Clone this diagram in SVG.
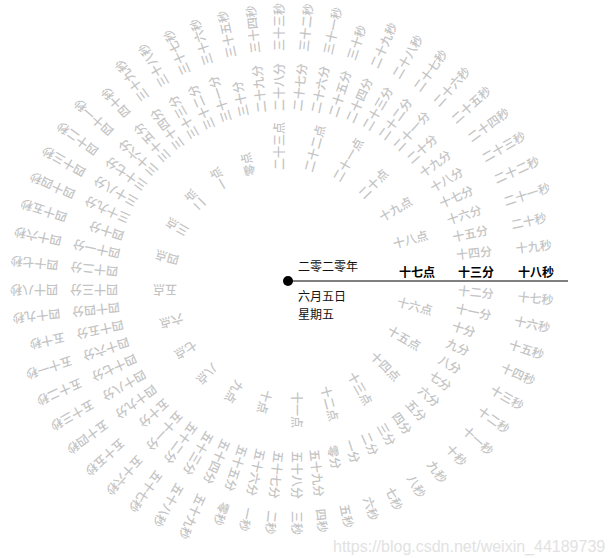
<svg xmlns="http://www.w3.org/2000/svg" width="611" height="558" viewBox="0 0 611 558">
<style>
text{font-family:"Noto Sans CJK SC","Noto Sans CJK TC",sans-serif;font-size:12px}
.g{fill:#c4c4c4;font-weight:500}
.cur{fill:#000;font-weight:bold}
.d{fill:#111}
.wm{font-family:"Liberation Sans",Arial,sans-serif;font-size:16px;fill:#e2e2e2}
</style>
<rect width="611" height="558" fill="#fff"/>
<g id="connectors">
<line x1="288" y1="281" x2="568" y2="281" stroke="#808080" stroke-width="2"/>
<circle cx="288" cy="281" r="5" fill="#000"/>
</g>
<g id="hours" transform="translate(288,281)">
<text class="cur" x="111" y="-4">十七点</text>
<text class="g" x="111" y="-4" transform="rotate(-15)">十八点</text>
<text class="g" x="111" y="-4" transform="rotate(-30)">十九点</text>
<text class="g" x="111" y="-4" transform="rotate(-45)">二十点</text>
<text class="g" x="111" y="-4" transform="rotate(-60)">二十一点</text>
<text class="g" x="111" y="-4" transform="rotate(-75)">二十二点</text>
<text class="g" x="111" y="-4" transform="rotate(-90)">二十三点</text>
<text class="g" x="111" y="-4" transform="rotate(-105)">零点</text>
<text class="g" x="111" y="-4" transform="rotate(-120)">一点</text>
<text class="g" x="111" y="-4" transform="rotate(-135)">二点</text>
<text class="g" x="111" y="-4" transform="rotate(-150)">三点</text>
<text class="g" x="111" y="-4" transform="rotate(-165)">四点</text>
<text class="g" x="111" y="-4" transform="rotate(180)">五点</text>
<text class="g" x="111" y="-4" transform="rotate(165)">六点</text>
<text class="g" x="111" y="-4" transform="rotate(150)">七点</text>
<text class="g" x="111" y="-4" transform="rotate(135)">八点</text>
<text class="g" x="111" y="-4" transform="rotate(120)">九点</text>
<text class="g" x="111" y="-4" transform="rotate(105)">十点</text>
<text class="g" x="111" y="-4" transform="rotate(90)">十一点</text>
<text class="g" x="111" y="-4" transform="rotate(75)">十二点</text>
<text class="g" x="111" y="-4" transform="rotate(60)">十三点</text>
<text class="g" x="111" y="-4" transform="rotate(45)">十四点</text>
<text class="g" x="111" y="-4" transform="rotate(30)">十五点</text>
<text class="g" x="111" y="-4" transform="rotate(15)">十六点</text>
</g>
<g id="minutes" transform="translate(288,281)">
<text class="cur" x="170" y="-4">十三分</text>
<text class="g" x="170" y="-4" transform="rotate(-6)">十四分</text>
<text class="g" x="170" y="-4" transform="rotate(-12)">十五分</text>
<text class="g" x="170" y="-4" transform="rotate(-18)">十六分</text>
<text class="g" x="170" y="-4" transform="rotate(-24)">十七分</text>
<text class="g" x="170" y="-4" transform="rotate(-30)">十八分</text>
<text class="g" x="170" y="-4" transform="rotate(-36)">十九分</text>
<text class="g" x="170" y="-4" transform="rotate(-42)">二十分</text>
<text class="g" x="170" y="-4" transform="rotate(-48)">二十一分</text>
<text class="g" x="170" y="-4" transform="rotate(-54)">二十二分</text>
<text class="g" x="170" y="-4" transform="rotate(-60)">二十三分</text>
<text class="g" x="170" y="-4" transform="rotate(-66)">二十四分</text>
<text class="g" x="170" y="-4" transform="rotate(-72)">二十五分</text>
<text class="g" x="170" y="-4" transform="rotate(-78)">二十六分</text>
<text class="g" x="170" y="-4" transform="rotate(-84)">二十七分</text>
<text class="g" x="170" y="-4" transform="rotate(-90)">二十八分</text>
<text class="g" x="170" y="-4" transform="rotate(-96)">二十九分</text>
<text class="g" x="170" y="-4" transform="rotate(-102)">三十分</text>
<text class="g" x="170" y="-4" transform="rotate(-108)">三十一分</text>
<text class="g" x="170" y="-4" transform="rotate(-114)">三十二分</text>
<text class="g" x="170" y="-4" transform="rotate(-120)">三十三分</text>
<text class="g" x="170" y="-4" transform="rotate(-126)">三十四分</text>
<text class="g" x="170" y="-4" transform="rotate(-132)">三十五分</text>
<text class="g" x="170" y="-4" transform="rotate(-138)">三十六分</text>
<text class="g" x="170" y="-4" transform="rotate(-144)">三十七分</text>
<text class="g" x="170" y="-4" transform="rotate(-150)">三十八分</text>
<text class="g" x="170" y="-4" transform="rotate(-156)">三十九分</text>
<text class="g" x="170" y="-4" transform="rotate(-162)">四十分</text>
<text class="g" x="170" y="-4" transform="rotate(-168)">四十一分</text>
<text class="g" x="170" y="-4" transform="rotate(-174)">四十二分</text>
<text class="g" x="170" y="-4" transform="rotate(180)">四十三分</text>
<text class="g" x="170" y="-4" transform="rotate(174)">四十四分</text>
<text class="g" x="170" y="-4" transform="rotate(168)">四十五分</text>
<text class="g" x="170" y="-4" transform="rotate(162)">四十六分</text>
<text class="g" x="170" y="-4" transform="rotate(156)">四十七分</text>
<text class="g" x="170" y="-4" transform="rotate(150)">四十八分</text>
<text class="g" x="170" y="-4" transform="rotate(144)">四十九分</text>
<text class="g" x="170" y="-4" transform="rotate(138)">五十分</text>
<text class="g" x="170" y="-4" transform="rotate(132)">五十一分</text>
<text class="g" x="170" y="-4" transform="rotate(126)">五十二分</text>
<text class="g" x="170" y="-4" transform="rotate(120)">五十三分</text>
<text class="g" x="170" y="-4" transform="rotate(114)">五十四分</text>
<text class="g" x="170" y="-4" transform="rotate(108)">五十五分</text>
<text class="g" x="170" y="-4" transform="rotate(102)">五十六分</text>
<text class="g" x="170" y="-4" transform="rotate(96)">五十七分</text>
<text class="g" x="170" y="-4" transform="rotate(90)">五十八分</text>
<text class="g" x="170" y="-4" transform="rotate(84)">五十九分</text>
<text class="g" x="170" y="-4" transform="rotate(78)">零分</text>
<text class="g" x="170" y="-4" transform="rotate(72)">一分</text>
<text class="g" x="170" y="-4" transform="rotate(66)">二分</text>
<text class="g" x="170" y="-4" transform="rotate(60)">三分</text>
<text class="g" x="170" y="-4" transform="rotate(54)">四分</text>
<text class="g" x="170" y="-4" transform="rotate(48)">五分</text>
<text class="g" x="170" y="-4" transform="rotate(42)">六分</text>
<text class="g" x="170" y="-4" transform="rotate(36)">七分</text>
<text class="g" x="170" y="-4" transform="rotate(30)">八分</text>
<text class="g" x="170" y="-4" transform="rotate(24)">九分</text>
<text class="g" x="170" y="-4" transform="rotate(18)">十分</text>
<text class="g" x="170" y="-4" transform="rotate(12)">十一分</text>
<text class="g" x="170" y="-4" transform="rotate(6)">十二分</text>
</g>
<g id="seconds" transform="translate(288,281)">
<text class="cur" x="230" y="-4">十八秒</text>
<text class="g" x="230" y="-4" transform="rotate(-6)">十九秒</text>
<text class="g" x="230" y="-4" transform="rotate(-12)">二十秒</text>
<text class="g" x="230" y="-4" transform="rotate(-18)">二十一秒</text>
<text class="g" x="230" y="-4" transform="rotate(-24)">二十二秒</text>
<text class="g" x="230" y="-4" transform="rotate(-30)">二十三秒</text>
<text class="g" x="230" y="-4" transform="rotate(-36)">二十四秒</text>
<text class="g" x="230" y="-4" transform="rotate(-42)">二十五秒</text>
<text class="g" x="230" y="-4" transform="rotate(-48)">二十六秒</text>
<text class="g" x="230" y="-4" transform="rotate(-54)">二十七秒</text>
<text class="g" x="230" y="-4" transform="rotate(-60)">二十八秒</text>
<text class="g" x="230" y="-4" transform="rotate(-66)">二十九秒</text>
<text class="g" x="230" y="-4" transform="rotate(-72)">三十秒</text>
<text class="g" x="230" y="-4" transform="rotate(-78)">三十一秒</text>
<text class="g" x="230" y="-4" transform="rotate(-84)">三十二秒</text>
<text class="g" x="230" y="-4" transform="rotate(-90)">三十三秒</text>
<text class="g" x="230" y="-4" transform="rotate(-96)">三十四秒</text>
<text class="g" x="230" y="-4" transform="rotate(-102)">三十五秒</text>
<text class="g" x="230" y="-4" transform="rotate(-108)">三十六秒</text>
<text class="g" x="230" y="-4" transform="rotate(-114)">三十七秒</text>
<text class="g" x="230" y="-4" transform="rotate(-120)">三十八秒</text>
<text class="g" x="230" y="-4" transform="rotate(-126)">三十九秒</text>
<text class="g" x="230" y="-4" transform="rotate(-132)">四十秒</text>
<text class="g" x="230" y="-4" transform="rotate(-138)">四十一秒</text>
<text class="g" x="230" y="-4" transform="rotate(-144)">四十二秒</text>
<text class="g" x="230" y="-4" transform="rotate(-150)">四十三秒</text>
<text class="g" x="230" y="-4" transform="rotate(-156)">四十四秒</text>
<text class="g" x="230" y="-4" transform="rotate(-162)">四十五秒</text>
<text class="g" x="230" y="-4" transform="rotate(-168)">四十六秒</text>
<text class="g" x="230" y="-4" transform="rotate(-174)">四十七秒</text>
<text class="g" x="230" y="-4" transform="rotate(180)">四十八秒</text>
<text class="g" x="230" y="-4" transform="rotate(174)">四十九秒</text>
<text class="g" x="230" y="-4" transform="rotate(168)">五十秒</text>
<text class="g" x="230" y="-4" transform="rotate(162)">五十一秒</text>
<text class="g" x="230" y="-4" transform="rotate(156)">五十二秒</text>
<text class="g" x="230" y="-4" transform="rotate(150)">五十三秒</text>
<text class="g" x="230" y="-4" transform="rotate(144)">五十四秒</text>
<text class="g" x="230" y="-4" transform="rotate(138)">五十五秒</text>
<text class="g" x="230" y="-4" transform="rotate(132)">五十六秒</text>
<text class="g" x="230" y="-4" transform="rotate(126)">五十七秒</text>
<text class="g" x="230" y="-4" transform="rotate(120)">五十八秒</text>
<text class="g" x="230" y="-4" transform="rotate(114)">五十九秒</text>
<text class="g" x="230" y="-4" transform="rotate(108)">零秒</text>
<text class="g" x="230" y="-4" transform="rotate(102)">一秒</text>
<text class="g" x="230" y="-4" transform="rotate(96)">二秒</text>
<text class="g" x="230" y="-4" transform="rotate(90)">三秒</text>
<text class="g" x="230" y="-4" transform="rotate(84)">四秒</text>
<text class="g" x="230" y="-4" transform="rotate(78)">五秒</text>
<text class="g" x="230" y="-4" transform="rotate(72)">六秒</text>
<text class="g" x="230" y="-4" transform="rotate(66)">七秒</text>
<text class="g" x="230" y="-4" transform="rotate(60)">八秒</text>
<text class="g" x="230" y="-4" transform="rotate(54)">九秒</text>
<text class="g" x="230" y="-4" transform="rotate(48)">十秒</text>
<text class="g" x="230" y="-4" transform="rotate(42)">十一秒</text>
<text class="g" x="230" y="-4" transform="rotate(36)">十二秒</text>
<text class="g" x="230" y="-4" transform="rotate(30)">十三秒</text>
<text class="g" x="230" y="-4" transform="rotate(24)">十四秒</text>
<text class="g" x="230" y="-4" transform="rotate(18)">十五秒</text>
<text class="g" x="230" y="-4" transform="rotate(12)">十六秒</text>
<text class="g" x="230" y="-4" transform="rotate(6)">十七秒</text>
</g>
<g id="date">
<text class="d" x="298" y="271">二零二零年</text>
<text class="d" x="298" y="301">六月五日</text>
<text class="d" x="298" y="319">星期五</text>
</g>
<g id="watermark">
<text class="wm" x="333" y="552">https://blog.csdn.net/weixin_44189739</text>
</g>
</svg>
